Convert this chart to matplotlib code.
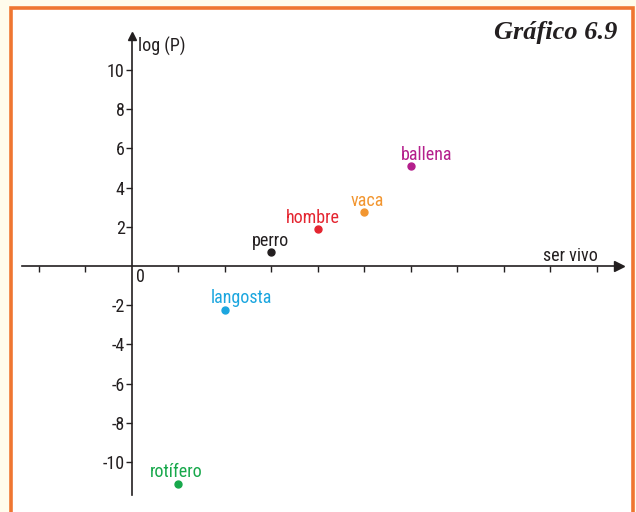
import matplotlib.pyplot as plt
from matplotlib.patches import Rectangle

# data
seres = ['rotífero', 'langosta', 'perro', 'hombre', 'vaca', 'ballena']
posicion = [1, 2, 3, 4, 5, 6]
log_p = [-11.1, -2.25, 0.7, 1.9, 2.75, 5.1]
colores = ['#17a84b', '#1ba6df', '#231f20', '#e42530', '#f29630', '#b41f8c']
# label offsets in pixels (dx, dy)
offsets = [(-2, 12), (17, 12), (-1, 11), (-5, 11), (3, 11), (16, 11)]
y_ticks = [-10, -8, -6, -4, -2, 2, 4, 6, 8, 10]

font = ['Roboto Condensed', 'Liberation Sans Narrow', 'Roboto', 'DejaVu Sans']
ink = '#231f20'
W, H, DPI = 636, 512, 100

fig = plt.figure(figsize=(W / DPI, H / DPI), dpi=DPI)
fig.patch.set_facecolor('#fffcec')
ax = fig.add_axes([0, 0, 1, 1])
ax.set_facecolor('none')

# pixel mapping: origin at (131.7, 266), 46.5 px per x unit, 19.6 px per y unit
x0, y0, sx, sy = 131.7, 266, 46.5, 19.6
ax.set_xlim(-x0 / sx, (W - x0) / sx)
ax.set_ylim(-(H - y0) / sy, y0 / sy)

# orange frame
ax.add_patch(Rectangle((10.5 / W, -0.1), (633 - 10.5) / W, 1.1 - 8 / H,
                       transform=fig.transFigure, facecolor='white',
                       edgecolor='#ef7631', linewidth=2.6, zorder=0))

for s in ['top', 'right']:
    ax.spines[s].set_visible(False)
ax.spines['left'].set_position(('data', 0))
ax.spines['bottom'].set_position(('data', 0))
ax.spines['left'].set_bounds(-11.7, 11.7)
ax.spines['bottom'].set_bounds(-2.36, 10.4)
for s in ['left', 'bottom']:
    ax.spines[s].set_color(ink)
    ax.spines[s].set_linewidth(1.2)
    ax.spines[s].set_zorder(2)

ax.set_xticks([-2, -1, 1, 2, 3, 4, 5, 6, 7, 8, 9, 10])
ax.set_xticklabels([])
ax.set_yticks(y_ticks)
ax.set_yticklabels([str(v) for v in y_ticks], family=font, fontsize=13, color=ink)
ax.tick_params(direction='out', length=4, width=1, color=ink, pad=1)

# arrow heads
ax.plot(10.47, 0, marker='>', ms=7, color=ink, clip_on=False, zorder=3)
ax.plot(0, 11.75, marker='^', ms=6, color=ink, clip_on=False, zorder=3)

ax.text(0.13, 11.2, 'log (P)', family=font, fontsize=13, color=ink, va='center', ha='left')
ax.text(10.03, 0.5, 'ser vivo', family=font, fontsize=13, color=ink, va='center', ha='right')
ax.text(0.1, -0.55, '0', family=font, fontsize=13, color=ink, va='center', ha='left')

for nombre, x, y, c, (dx, dy) in zip(seres, posicion, log_p, colores, offsets):
    ax.plot(x, y, 'o', ms=5, color=c, zorder=4)
    ax.annotate(nombre, (x, y), xytext=(dx * 0.72, dy * 0.72), textcoords='offset points',
                ha='center', va='center', family=font, fontsize=13, color=c)

fig.text(617 / W, 1 - 33 / H, 'Gráfico 6.9', family=['Liberation Serif', 'DejaVu Serif'],
         fontsize=19, style='italic', weight='bold', color=ink, ha='right', va='center')

fig.savefig('out.png', dpi=DPI, facecolor=fig.get_facecolor())
